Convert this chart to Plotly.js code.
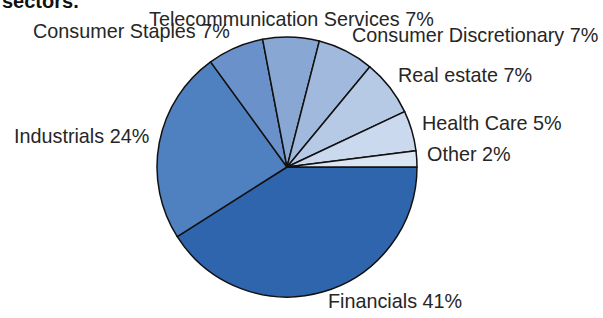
<!DOCTYPE html>
<html>
<head>
<meta charset="utf-8">
<script src="https://cdn.plot.ly/plotly-3.0.1.min.js"></script>
<style>
  html, body { margin: 0; padding: 0; background: #ffffff; }
  #chart { width: 603px; height: 318px; }
</style>
</head>
<body>
<div id="chart"></div>
<script>
// ---- Data ----
const sectors = ["Financials", "Industrials", "Consumer Staples", "Telecommunication Services",
                 "Consumer Discretionary", "Real estate", "Health Care", "Other"];
const shares = [41, 24, 7, 7, 7, 7, 5, 2];
const sliceColors = ["#2e65ad", "#4f80c0", "#6a91c9", "#88a7d3", "#a0b9dc", "#b6c9e5", "#cbd9ee", "#dce6f3"];
const titleText = "sectors.";

// ---- Layout geometry ----
const W = 603, H = 318;
const cx = 287, cy = 167, R = 130;           // pie centre & radius in px
const kx = 1.065, ky = 1.105;                 // label anchor distance, in radii
const labelCy = cy - 4;                       // label ring centre (slightly raised)

const total = shares.reduce((a, b) => a + b, 0);
let cum = 0;
const annotations = [];
shares.forEach((v, i) => {
  const mid = (cum + v / 2) / total;
  cum += v;
  const th = 2 * Math.PI * mid;               // clockwise from 3 o'clock (screen coords)
  const c = Math.cos(th), s = Math.sin(th);
  const px = cx + kx * R * c;
  const py = labelCy + ky * R * s;
  annotations.push({
    xref: "paper", yref: "paper",
    x: px / W, y: 1 - py / H,
    xanchor: c > 0.1 ? "left" : (c < -0.1 ? "right" : "center"),
    yanchor: "middle",
    showarrow: false,
    text: sectors[i] + " " + Math.round(v / total * 100) + "%",
    font: { family: "Liberation Sans, Arial, sans-serif", size: 19.8, color: "#262626" }
  });
});
annotations.push({
  xref: "paper", yref: "paper", x: 0, y: 1 - 1 / H,
  xanchor: "left", yanchor: "middle", showarrow: false,
  text: "<b>" + titleText + "</b>",
  font: { family: "Liberation Sans, Arial, sans-serif", size: 20, color: "#111111" }
});

const trace = {
  type: "pie",
  labels: sectors,
  values: shares,
  sort: false,
  direction: "clockwise",
  rotation: 90,
  textinfo: "none",
  hoverinfo: "label+percent",
  marker: { colors: sliceColors, line: { color: "#111111", width: 1.5 } },
  domain: { x: [(cx - R) / W, (cx + R) / W], y: [(H - cy - R) / H, (H - cy + R) / H] }
};

const layout = {
  width: W, height: H,
  margin: { l: 0, r: 0, t: 0, b: 0 },
  paper_bgcolor: "#ffffff",
  showlegend: false,
  annotations: annotations
};

Plotly.newPlot("chart", [trace], layout, { displayModeBar: false, staticPlot: true });
</script>
</body>
</html>
